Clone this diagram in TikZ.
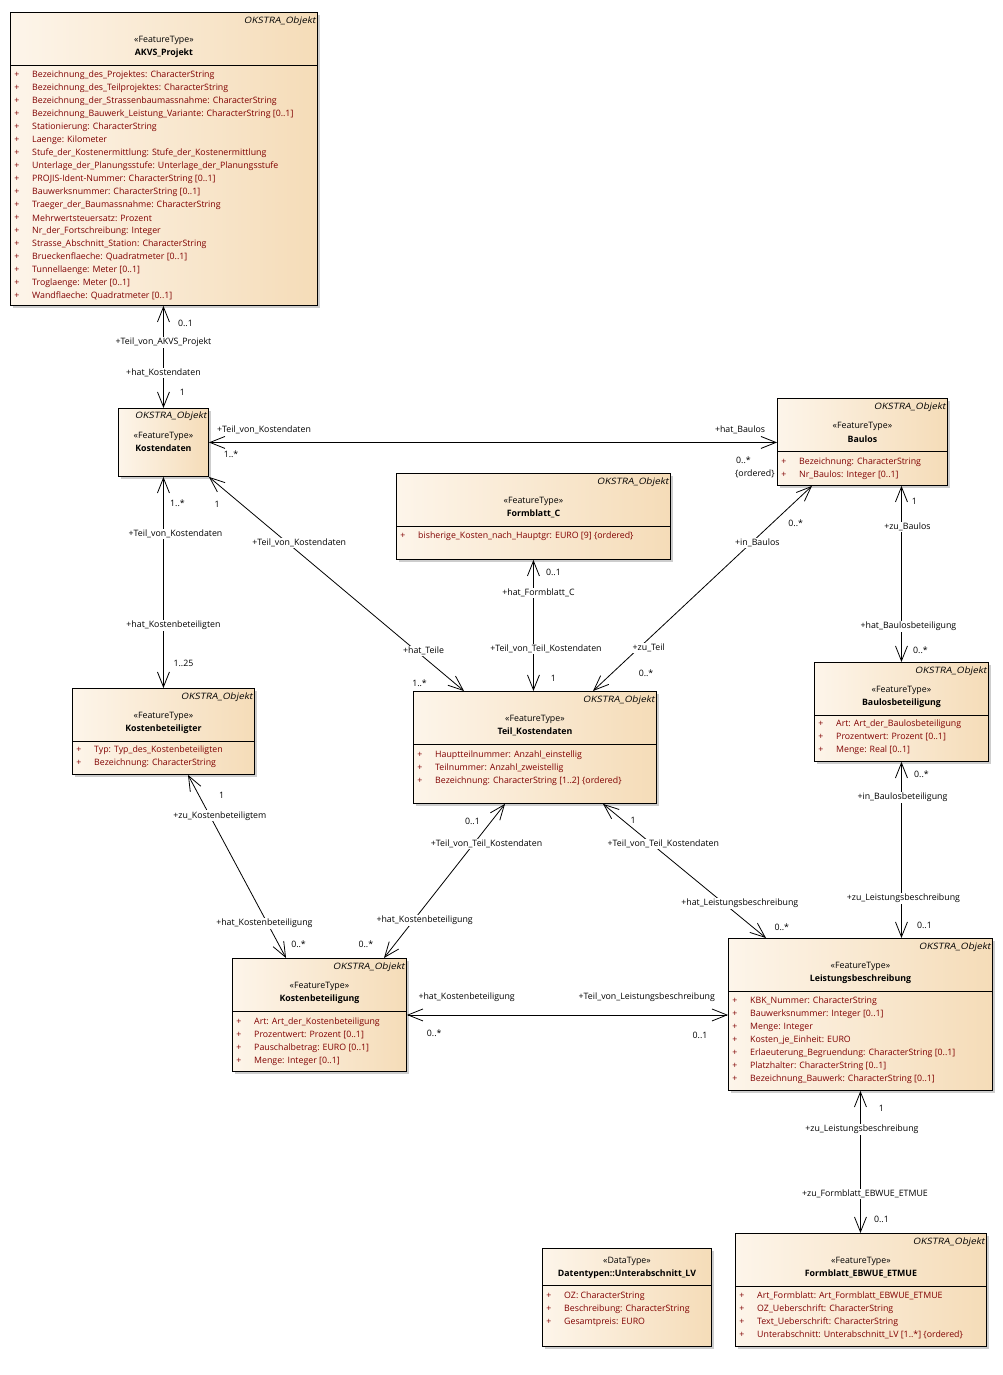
\documentclass[tikz,border=0pt]{standalone}
\usepackage{fontspec}
\setmainfont{Open Sans}
\newfontfamily\okstrafont[FakeSlant=0.2, FakeStretch=1.12]{Open Sans}
\usetikzlibrary{arrows.meta, calc, positioning, shadows}
\definecolor{boxleft}{RGB}{253,245,234}
\definecolor{boxright}{RGB}{245,220,184}
\definecolor{attrred}{RGB}{128,0,0}
\definecolor{shadowgray}{RGB}{205,205,205}

% header of a feature type: node, stereotype, class name
\newcommand{\classhead}[3]{
	\node[okstra] (#1-ok) at ($(#1.north east)+(-2,9)$) {OKSTRA\_Objekt};
	\node[stereo] (#1-st) at ($(#1.north)+(0,28)$) {«#2»};
	\node[cname] (#1-nm) at ($(#1.north)+(0,41)$) {#3};
	\draw[sepline] ($(#1.north west)+(0,53)$) -- ($(#1.north east)+(0,53)$);
}
% attribute list: node, offset of first line, list
\newcommand{\classattrs}[3]{
	\foreach \a [count=\i] in {#3}{
		\node[plus] (#1-p\i) at ($(#1.north west)+(7,{#2+13*(\i-1)})$) {+};
		\node[attr] (#1-a\i) at ($(#1.north west)+(22,{#2+13*(\i-1)})$) {\a};
	}
}

\begin{document}
\begin{tikzpicture}[x=1pt, y=-1pt,
		every node/.style={font=\fontsize{8.8}{10}\selectfont, inner sep=0pt},
		classbox/.style={draw, line width=0.9pt, anchor=north west, left color=boxleft, right color=boxright,
			drop shadow={shadow xshift=3pt, shadow yshift=-3pt, fill=shadowgray, opacity=1}},
		okstra/.style={anchor=east, font=\fontsize{8.8}{10}\okstrafont},
		stereo/.style={},
		cname/.style={font=\fontsize{8.8}{10}\selectfont\bfseries},
		sepline/.style={line width=0.9pt},
		plus/.style={text=attrred},
		attr/.style={anchor=west, text=attrred},
		assoc/.style={line width=0.8pt, {Straight Barb[length=15pt,width=12pt]}-{Straight Barb[length=15pt,width=12pt]}},
		role/.style={fill=white, inner sep=1pt},
		mult/.style={}]
	\useasboundingbox (0,0) rectangle (1003,1375);

	% classes
	\node[classbox, minimum width=307, minimum height=293] (akvs) at (10,12) {};
	\classhead{akvs}{FeatureType}{AKVS\_Projekt}
	\classattrs{akvs}{63}{Bezeichnung\_des\_Projektes: CharacterString,
		Bezeichnung\_des\_Teilprojektes: CharacterString,
		Bezeichnung\_der\_Strassenbaumassnahme: CharacterString,
		Bezeichnung\_Bauwerk\_Leistung\_Variante: CharacterString [0..1],
		Stationierung: CharacterString,
		Laenge: Kilometer,
		Stufe\_der\_Kostenermittlung: Stufe\_der\_Kostenermittlung,
		Unterlage\_der\_Planungsstufe: Unterlage\_der\_Planungsstufe,
		PROJIS-Ident-Nummer: CharacterString [0..1],
		Bauwerksnummer: CharacterString [0..1],
		Traeger\_der\_Baumassnahme: CharacterString,
		Mehrwertsteuersatz: Prozent,
		Nr\_der\_Fortschreibung: Integer,
		Strasse\_Abschnitt\_Station: CharacterString,
		Brueckenflaeche: Quadratmeter [0..1],
		Tunnellaenge: Meter [0..1],
		Troglaenge: Meter [0..1],
		Wandflaeche: Quadratmeter [0..1]}

	\node[classbox, minimum width=90, minimum height=68] (kosten) at (118,408) {};
	\node[okstra] (kosten-ok) at ($(kosten.north east)+(-2,8)$) {OKSTRA\_Objekt};
	\node[stereo] (kosten-st) at ($(kosten.north)+(0,28)$) {«FeatureType»};
	\node[cname] (kosten-nm) at ($(kosten.north)+(0,40)$) {Kostendaten};

	\node[classbox, minimum width=170, minimum height=87] (baulos) at (777,398) {};
	\classhead{baulos}{FeatureType}{Baulos}
	\classattrs{baulos}{64}{Bezeichnung: CharacterString, Nr\_Baulos: Integer [0..1]}

	\node[classbox, minimum width=274, minimum height=86] (formc) at (396,473) {};
	\classhead{formc}{FeatureType}{Formblatt\_C}
	\classattrs{formc}{63}{bisherige\_Kosten\_nach\_Hauptgr: EURO [9] \{ordered\}}

	\node[classbox, minimum width=182, minimum height=86] (kbtr) at (72,688) {};
	\classhead{kbtr}{FeatureType}{Kostenbeteiligter}
	\classattrs{kbtr}{62}{Typ: Typ\_des\_Kostenbeteiligten, Bezeichnung: CharacterString}

	\node[classbox, minimum width=243, minimum height=112] (teil) at (413,691) {};
	\classhead{teil}{FeatureType}{Teil\_Kostendaten}
	\classattrs{teil}{64}{Hauptteilnummer: Anzahl\_einstellig,
		Teilnummer: Anzahl\_zweistellig,
		Bezeichnung: CharacterString [1..2] \{ordered\}}

	\node[classbox, minimum width=174, minimum height=99] (blbt) at (814,662) {};
	\classhead{blbt}{FeatureType}{Baulosbeteiligung}
	\classattrs{blbt}{62}{Art: Art\_der\_Baulosbeteiligung, Prozentwert: Prozent [0..1], Menge: Real [0..1]}

	\node[classbox, minimum width=174, minimum height=113] (kbtg) at (232,958) {};
	\classhead{kbtg}{FeatureType}{Kostenbeteiligung}
	\classattrs{kbtg}{64}{Art: Art\_der\_Kostenbeteiligung, Prozentwert: Prozent [0..1],
		Pauschalbetrag: EURO [0..1], Menge: Integer [0..1]}

	\node[classbox, minimum width=264, minimum height=152] (lb) at (728,938) {};
	\classhead{lb}{FeatureType}{Leistungsbeschreibung}
	\classattrs{lb}{63}{KBK\_Nummer: CharacterString,
		Bauwerksnummer: Integer [0..1],
		Menge: Integer,
		Kosten\_je\_Einheit: EURO,
		Erlaeuterung\_Begruendung: CharacterString [0..1],
		Platzhalter: CharacterString [0..1],
		Bezeichnung\_Bauwerk: CharacterString [0..1]}

	\node[classbox, minimum width=169, minimum height=98] (ualv) at (542,1248) {};
	\node[stereo] (ualv-st) at ($(ualv.north)+(0,13)$) {«DataType»};
	\node[cname] (ualv-nm) at ($(ualv.north)+(0,26)$) {Datentypen::Unterabschnitt\_LV};
	\draw[sepline] ($(ualv.north west)+(0,37)$) -- ($(ualv.north east)+(0,37)$);
	\classattrs{ualv}{48}{OZ: CharacterString, Beschreibung: CharacterString, Gesamtpreis: EURO}

	\node[classbox, minimum width=251, minimum height=113] (febw) at (735,1233) {};
	\classhead{febw}{FeatureType}{Formblatt\_EBWUE\_ETMUE}
	\classattrs{febw}{63}{Art\_Formblatt: Art\_Formblatt\_EBWUE\_ETMUE,
		OZ\_Ueberschrift: CharacterString,
		Text\_Ueberschrift: CharacterString,
		Unterabschnitt: Unterabschnitt\_LV [1..*] \{ordered\}}

	% associations
	\draw[assoc] (akvs.south -| kosten.north) -- (kosten.north)
		node[mult, pos=0.175, xshift=22] {0..1}
		node[role, pos=0.36] {+Teil\_von\_AKVS\_Projekt}
		node[role, pos=0.66] {+hat\_Kostendaten}
		node[mult, pos=0.845, xshift=19] {1};
	\draw[assoc] (kosten.east) -- (kosten.east -| baulos.west)
		node[role, pos=0.097, yshift=13] {+Teil\_von\_Kostendaten}
		node[mult, pos=0.039, yshift=-12] {1..*}
		node[role, pos=0.935, yshift=13] {+hat\_Baulos}
		node[mult, pos=0.941, yshift=-18] {0..*}
		node[mult, pos=0.961, yshift=-31] {\{ordered\}};
	\draw[assoc] (kosten.south) -- (kbtr.north)
		node[mult, pos=0.123, xshift=14] {1..*}
		node[role, pos=0.269, xshift=12] {+Teil\_von\_Kostendaten}
		node[role, pos=0.703, xshift=10] {+hat\_Kostenbeteiligten}
		node[mult, pos=0.882, xshift=20] {1..25};
	\draw[assoc] (kosten.south east) -- ($(teil.north west)+(51,0)$)
		node[mult, pos=0.126, xshift=-24] {1}
		node[role, pos=0.307, xshift=12] {+Teil\_von\_Kostendaten}
		node[role, pos=0.814, xshift=7] {+hat\_Teile}
		node[mult, pos=0.963, xshift=-35] {1..*};
	\draw[assoc] (formc.south) -- (formc.south |- teil.north)
		node[mult, pos=0.098, xshift=20] {0..1}
		node[role, pos=0.25, xshift=5] {+hat\_Formblatt\_C}
		node[role, pos=0.68, xshift=12.5] {+Teil\_von\_Teil\_Kostendaten}
		node[mult, pos=0.90, xshift=20] {1};
	\draw[assoc] ($(baulos.south west)+(35,0)$) -- ($(teil.north west)+(180,0)$)
		node[mult, pos=0.184, xshift=24] {0..*}
		node[role, pos=0.277, xshift=6] {+in\_Baulos}
		node[role, pos=0.791, xshift=10] {+zu\_Teil}
		node[mult, pos=0.913, xshift=34] {0..*};
	\draw[assoc] (blbt.north |- baulos.south) -- (blbt.north)
		node[mult, pos=0.085, xshift=13] {1}
		node[role, pos=0.232, xshift=6] {+zu\_Baulos}
		node[role, pos=0.797, xshift=7] {+hat\_Baulosbeteiligung}
		node[mult, pos=0.932, xshift=19] {0..*};
	\draw[assoc] (blbt.south) -- (blbt.south |- lb.north)
		node[mult, pos=0.068, xshift=20] {0..*}
		node[role, pos=0.203, xshift=1] {+in\_Baulosbeteiligung}
		node[role, pos=0.774, xshift=2] {+zu\_Leistungsbeschreibung}
		node[mult, pos=0.927, xshift=23] {0..1};
	\draw[assoc] ($(kbtr.south west)+(116,0)$) -- ($(kbtg.north west)+(54,0)$)
		node[mult, pos=0.109, xshift=23] {1}
		node[role, pos=0.223, xshift=10] {+zu\_Kostenbeteiligtem}
		node[role, pos=0.81, xshift=-3] {+hat\_Kostenbeteiligung}
		node[mult, pos=0.924, xshift=20] {0..*};
	\draw[assoc] ($(teil.south west)+(92,0)$) -- ($(kbtg.north west)+(152,0)$)
		node[mult, pos=0.116, xshift=-18.5] {0..1}
		node[role, pos=0.258, xshift=12.7] {+Teil\_von\_Teil\_Kostendaten}
		node[role, pos=0.755, xshift=11] {+hat\_Kostenbeteiligung}
		node[mult, pos=0.91, xshift=-29] {0..*};
	\draw[assoc] ($(teil.south west)+(190,0)$) -- ($(lb.north west)+(38,0)$)
		node[mult, pos=0.126, xshift=9.5] {1}
		node[role, pos=0.296, xshift=12] {+Teil\_von\_Teil\_Kostendaten}
		node[role, pos=0.741, xshift=16] {+hat\_Leistungsbeschreibung}
		node[mult, pos=0.919, xshift=29] {0..*};
	\draw[assoc] (kbtg.east) -- (kbtg.east -| lb.west)
		node[role, pos=0.186, yshift=18] {+hat\_Kostenbeteiligung}
		node[mult, pos=0.085, yshift=-18] {0..*}
		node[role, pos=0.747, yshift=18] {+Teil\_von\_Leistungsbeschreibung}
		node[mult, pos=0.913, yshift=-20] {0..1};
	\draw[assoc] (lb.south) -- (lb.south |- febw.north)
		node[mult, pos=0.126, xshift=21] {1}
		node[role, pos=0.273, xshift=1.5] {+zu\_Leistungsbeschreibung}
		node[role, pos=0.727, xshift=4.5] {+zu\_Formblatt\_EBWUE\_ETMUE}
		node[mult, pos=0.902, xshift=21] {0..1};
\end{tikzpicture}
\end{document}
